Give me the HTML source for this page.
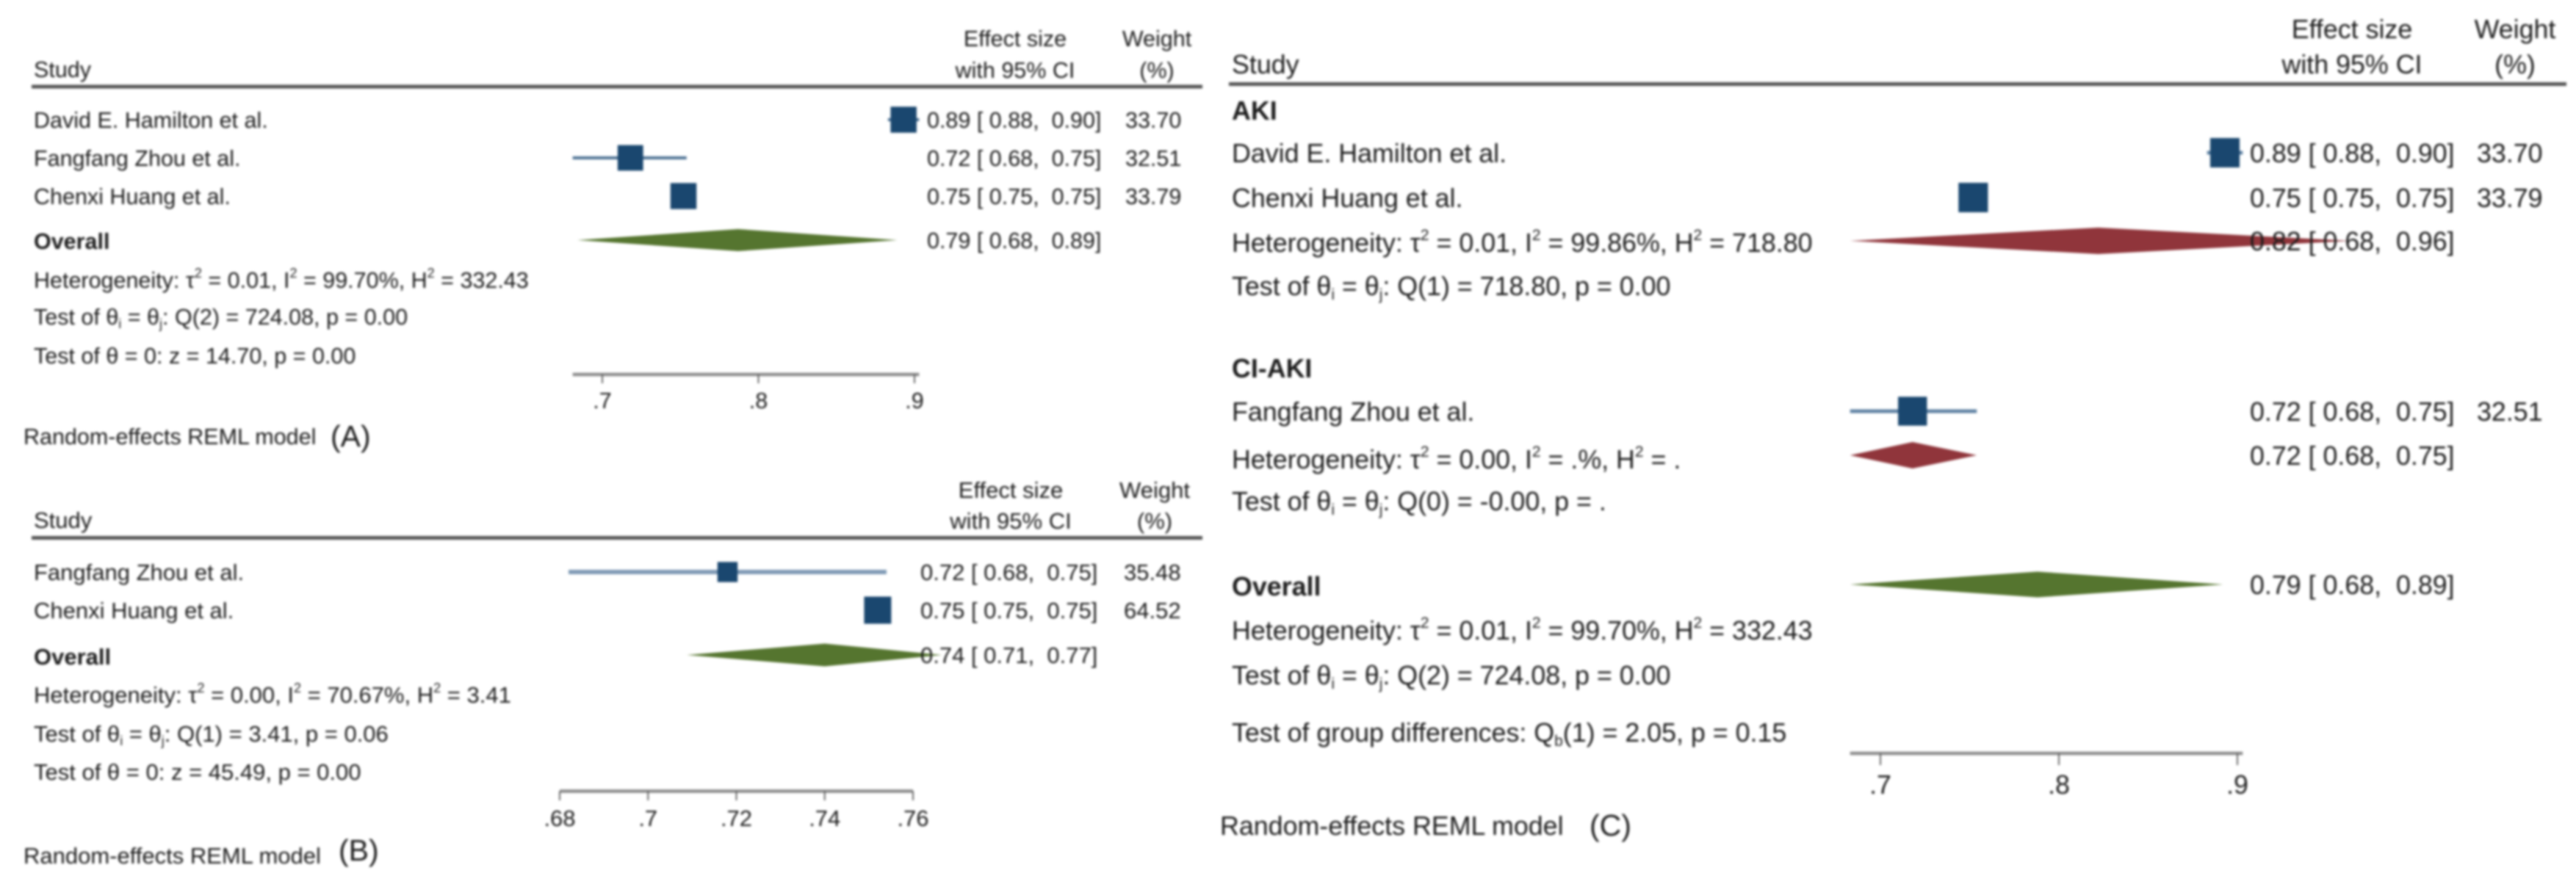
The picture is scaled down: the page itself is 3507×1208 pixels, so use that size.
<!DOCTYPE html>
<html lang="en">
<head>
<meta charset="utf-8">
<title>Forest plots of effect sizes</title>
<style>
html,body{margin:0;padding:0;background:#fff;}
body{width:3507px;height:1208px;overflow:hidden;}
svg{display:block;filter:blur(1.5px);}
text{font-family:"Liberation Sans",sans-serif;fill:#1c1c1c;white-space:pre;}
.a{font-size:30.5px;}
.b{font-size:31px;}
.c{font-size:35.8px;}
.bold{font-weight:bold;}
.mid{text-anchor:middle;}
.tag{font-size:41px;}
</style>
</head>
<body>
<svg id="chart" width="3507" height="1208" viewBox="0 0 3507 1208" xmlns="http://www.w3.org/2000/svg">
  <rect x="0" y="0" width="3507" height="1208" fill="#fff"/>

  <g id="panel-a">
    <g id="marks-a"></g>
    <text class="a mid" x="1382" y="63">Effect size</text>
    <text class="a mid" x="1382" y="106">with 95% CI</text>
    <text class="a mid" x="1575" y="63">Weight</text>
    <text class="a mid" x="1575" y="106">(%)</text>
    <text class="a" x="46" y="105">Study</text>
    <rect x="43" y="115.5" width="1594" height="5" fill="#555"/>
    <text class="a bold" x="46" y="339">Overall</text>
    <text class="a" x="46" y="392">Heterogeneity: τ<tspan font-size="18" baseline-shift="14">2</tspan> = 0.01, I<tspan font-size="18" baseline-shift="14">2</tspan> = 99.70%, H<tspan font-size="18" baseline-shift="14">2</tspan> = 332.43</text>
    <text class="a" x="46" y="442">Test of θ<tspan font-size="18" baseline-shift="-5">i</tspan> = θ<tspan font-size="18" baseline-shift="-5">j</tspan>: Q(2) = 724.08, p = 0.00</text>
    <text class="a" x="46" y="495">Test of θ = 0: z = 14.70, p = 0.00</text>
    <text class="a" x="32" y="605">Random-effects REML model</text>
    <text class="tag" x="450" y="608">(A)</text>
  </g>

  <g id="panel-b">
    <g id="marks-b"></g>
    <text class="b mid" x="1376" y="678">Effect size</text>
    <text class="b mid" x="1376" y="720">with 95% CI</text>
    <text class="b mid" x="1572" y="678">Weight</text>
    <text class="b mid" x="1572" y="720">(%)</text>
    <text class="b" x="46" y="719">Study</text>
    <rect x="43" y="730" width="1594" height="5" fill="#555"/>
    <text class="b bold" x="46" y="905">Overall</text>
    <text class="b" x="46" y="957">Heterogeneity: τ<tspan font-size="18" baseline-shift="14">2</tspan> = 0.00, I<tspan font-size="18" baseline-shift="14">2</tspan> = 70.67%, H<tspan font-size="18" baseline-shift="14">2</tspan> = 3.41</text>
    <text class="b" x="46" y="1010">Test of θ<tspan font-size="18" baseline-shift="-5">i</tspan> = θ<tspan font-size="18" baseline-shift="-5">j</tspan>: Q(1) = 3.41, p = 0.06</text>
    <text class="b" x="46" y="1062">Test of θ = 0: z = 45.49, p = 0.00</text>
    <text class="b" x="32" y="1176">Random-effects REML model</text>
    <text class="tag" x="461" y="1172">(B)</text>
  </g>

  <g id="panel-c">
    <g id="marks-c"></g>
    <text class="c mid" x="3202" y="52">Effect size</text>
    <text class="c mid" x="3202" y="100">with 95% CI</text>
    <text class="c mid" x="3424" y="52">Weight</text>
    <text class="c mid" x="3424" y="100">(%)</text>
    <text class="c" x="1677" y="100">Study</text>
    <rect x="1673" y="112" width="1821" height="5" fill="#555"/>
    <text class="c bold" x="1677" y="163">AKI</text>
    <text class="c" x="1677" y="343">Heterogeneity: τ<tspan font-size="21" baseline-shift="16">2</tspan> = 0.01, I<tspan font-size="21" baseline-shift="16">2</tspan> = 99.86%, H<tspan font-size="21" baseline-shift="16">2</tspan> = 718.80</text>
    <text class="c" x="1677" y="402">Test of θ<tspan font-size="21" baseline-shift="-6">i</tspan> = θ<tspan font-size="21" baseline-shift="-6">j</tspan>: Q(1) = 718.80, p = 0.00</text>
    <text class="c bold" x="1677" y="514">CI-AKI</text>
    <text class="c" x="1677" y="638">Heterogeneity: τ<tspan font-size="21" baseline-shift="16">2</tspan> = 0.00, I<tspan font-size="21" baseline-shift="16">2</tspan> = .%, H<tspan font-size="21" baseline-shift="16">2</tspan> = .</text>
    <text class="c" x="1677" y="695">Test of θ<tspan font-size="21" baseline-shift="-6">i</tspan> = θ<tspan font-size="21" baseline-shift="-6">j</tspan>: Q(0) = -0.00, p = .</text>
    <text class="c bold" x="1677" y="811">Overall</text>
    <text class="c" x="1677" y="871">Heterogeneity: τ<tspan font-size="21" baseline-shift="16">2</tspan> = 0.01, I<tspan font-size="21" baseline-shift="16">2</tspan> = 99.70%, H<tspan font-size="21" baseline-shift="16">2</tspan> = 332.43</text>
    <text class="c" x="1677" y="932">Test of θ<tspan font-size="21" baseline-shift="-6">i</tspan> = θ<tspan font-size="21" baseline-shift="-6">j</tspan>: Q(2) = 724.08, p = 0.00</text>
    <text class="c" x="1677" y="1010">Test of group differences: Q<tspan font-size="21" baseline-shift="-6">b</tspan>(1) = 2.05, p = 0.15</text>
    <text class="c" x="1661" y="1137">Random-effects REML model</text>
    <text class="tag" x="2164" y="1138">(C)</text>
  </g>
</svg>

<script>
// Panel A data
const aStudies = ['David E. Hamilton et al.', 'Fangfang Zhou et al.', 'Chenxi Huang et al.'];
const aEffects = [0.893, 0.718, 0.752];
const aLower = [0.883, 0.681, 0.750];
const aUpper = [0.903, 0.754, 0.754];
const aWeights = [33.70, 32.51, 33.79];
const aOverall = [0.787, 0.684, 0.889];
const aTicks = [0.7, 0.8, 0.9];
const aTickLabels = ['.7', '.8', '.9'];

// Panel B data
const bStudies = ['Fangfang Zhou et al.', 'Chenxi Huang et al.'];
const bEffects = [0.718, 0.752];
const bLower = [0.682, 0.750];
const bUpper = [0.754, 0.754];
const bWeights = [35.48, 64.52];
const bOverall = [0.740, 0.7088, 0.7665];
const bTicks = [0.68, 0.70, 0.72, 0.74, 0.76];
const bTickLabels = ['.68', '.7', '.72', '.74', '.76'];

// Panel C data
const cAkiStudies = ['David E. Hamilton et al.', 'Chenxi Huang et al.'];
const cAkiEffects = [0.893, 0.752];
const cAkiLower = [0.883, 0.750];
const cAkiUpper = [0.903, 0.754];
const cAkiWeights = [33.70, 33.79];
const cAkiPooled = [0.822, 0.683, 0.963];
const cCiStudies = ['Fangfang Zhou et al.'];
const cCiEffects = [0.718];
const cCiLower = [0.683];
const cCiUpper = [0.754];
const cCiWeights = [32.51];
const cCiPooled = [0.718, 0.683, 0.754];
const cOverall = [0.788, 0.683, 0.892];
const cTicks = [0.7, 0.8, 0.9];
const cTickLabels = ['.7', '.8', '.9'];

const NS = 'http://www.w3.org/2000/svg';
const NAVY = '#1a476f';
const GREEN = '#55752f';
const RED = '#90353b';

function make(parent, tag, attrs) {
  const el = document.createElementNS(NS, tag);
  for (const k in attrs) el.setAttribute(k, attrs[k]);
  parent.appendChild(el);
  return el;
}

function linearScale(d0, d1, r0, r1) {
  return function (v) { return r0 + (v - d0) * (r1 - r0) / (d1 - d0); };
}

function ciText(e, l, u) {
  return e.toFixed(2) + ' [ ' + l.toFixed(2) + ',  ' + u.toFixed(2) + ']';
}

function drawStudies(g, x, cfg, studies, effects, lower, upper, weights) {
  studies.forEach(function (name, i) {
    const y = cfg.top + i * cfg.step;
    const ci = make(g, 'line', { x1: x(lower[i]), x2: x(upper[i]), y1: y, y2: y, stroke: cfg.ciColor, 'stroke-width': cfg.ciWidth });
    
    
    const side = cfg.markerK * Math.sqrt(weights[i]);
    const box = make(g, 'rect', { x: x(effects[i]) - side / 2, y: y - side / 2, width: side, height: side, fill: NAVY });
    
    
    const label = make(g, 'text', { x: cfg.nameX, y: y + cfg.textDy, class: cfg.cls });
    label.textContent = name;
    
    
    const val = make(g, 'text', { x: cfg.valueX, y: y + cfg.textDy, class: cfg.cls });
    val.textContent = ciText(effects[i], lower[i], upper[i]);
    
    
    const wt = make(g, 'text', { x: cfg.weightX, y: y + cfg.textDy, class: cfg.cls });
    wt.textContent = weights[i].toFixed(2);
    
    
  });
}

function drawDiamond(g, x, cfg, pooled, y, halfH, color) {
  const pts = [
    x(pooled[1]) + ',' + y,
    x(pooled[0]) + ',' + (y - halfH),
    x(pooled[2]) + ',' + y,
    x(pooled[0]) + ',' + (y + halfH)
  ].join(' ');
  const d = make(g, 'polygon', { points: pts, fill: color });
  
  
  const val = make(g, 'text', { x: cfg.valueX, y: y + cfg.textDy, class: cfg.cls });
  val.textContent = ciText(pooled[0], pooled[1], pooled[2]);
  
  
}

function drawAxis(g, x, cfg, ticks, labels, lo, hi) {
  const axis = make(g, 'line', { x1: x(lo), x2: x(hi), y1: cfg.axisY, y2: cfg.axisY, stroke: '#8c8c8c', 'stroke-width': 4.5 });
  
  
  ticks.forEach(function (t, i) {
    const tick = make(g, 'line', { x1: x(t), x2: x(t), y1: cfg.axisY, y2: cfg.tickEnd, stroke: '#555', 'stroke-width': 1.8 });
    
    
    const lab = make(g, 'text', { x: x(t), y: cfg.labelY, class: cfg.cls + ' mid' });
    lab.textContent = labels[i];
    
    
  });
}

// Panel A
(function () {
  const g = document.getElementById('marks-a');
  const x = linearScale(0.7, 0.9, 820, 1245);
  const cfg = { top: 163, step: 52, markerK: 6.1, ciColor: '#4a6f92', ciWidth: 4, nameX: 46, valueX: 1262, weightX: 1532, textDy: 11, cls: 'a', axisY: 510, tickEnd: 522, labelY: 556 };
  drawAxis(g, x, cfg, aTicks, aTickLabels, 0.681, 0.903);
  drawStudies(g, x, cfg, aStudies, aEffects, aLower, aUpper, aWeights);
  drawDiamond(g, x, cfg, aOverall, 327, 15, GREEN);
})();

// Panel B
(function () {
  const g = document.getElementById('marks-b');
  const x = linearScale(0.68, 0.76, 762, 1243);
  const cfg = { top: 779, step: 52, markerK: 4.6, ciColor: '#7f9ab5', ciWidth: 6, nameX: 46, valueX: 1253, weightX: 1530, textDy: 11, cls: 'b', axisY: 1077.5, tickEnd: 1090, labelY: 1125 };
  drawAxis(g, x, cfg, bTicks, bTickLabels, 0.68, 0.76);
  drawStudies(g, x, cfg, bStudies, bEffects, bLower, bUpper, bWeights);
  drawDiamond(g, x, cfg, bOverall, 892, 15.5, GREEN);
})();

// Panel C
(function () {
  const g = document.getElementById('marks-c');
  const x = linearScale(0.7, 0.9, 2560, 3046);
  const base = { markerK: 6.9, ciColor: '#5f82a3', ciWidth: 5, nameX: 1677, valueX: 3063, weightX: 3372, textDy: 13, cls: 'c', axisY: 1026, tickEnd: 1042, labelY: 1081 };
  drawAxis(g, x, base, cTicks, cTickLabels, 0.683, 0.903);
  drawStudies(g, x, Object.assign({ top: 208, step: 61 }, base), cAkiStudies, cAkiEffects, cAkiLower, cAkiUpper, cAkiWeights);
  drawDiamond(g, x, base, cAkiPooled, 328, 18, RED);
  drawStudies(g, x, Object.assign({ top: 560, step: 61 }, base), cCiStudies, cCiEffects, cCiLower, cCiUpper, cCiWeights);
  drawDiamond(g, x, base, cCiPooled, 620, 18, RED);
  drawDiamond(g, x, base, cOverall, 796, 17.5, GREEN);
})();
</script>
</body>
</html>
